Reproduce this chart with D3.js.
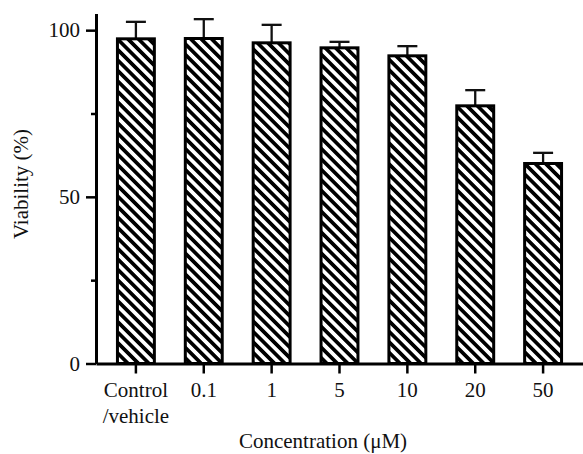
<!DOCTYPE html>
<html><head><meta charset="utf-8">
<script src="https://cdn.jsdelivr.net/npm/d3@7"></script>
<style>
body{margin:0;background:#fff}
svg{display:block}
text{font-family:"Liberation Serif","Times New Roman",serif;fill:#111}
</style>
</head><body>
<svg id="chart" width="583" height="454"></svg>
<script>
const categories = ["Control/vehicle", "0.1", "1", "5", "10", "20", "50"];
const viability = [97.4, 97.5, 96.2, 94.7, 92.3, 77.3, 60.0];
const errors = [5.1, 5.8, 5.4, 1.8, 2.9, 4.7, 3.2];
const yTicks = [0, 50, 100];
const yMinorTicks = [25, 75];
const yLabel = "Viability (%)";
const xLabel = "Concentration (\u03bcM)";

const svg = d3.select("#chart");
const fontSize = 21;

const x = d3.scaleBand().domain(categories).range([96, 583]).paddingInner(0.456).paddingOuter(0.316);
const y = d3.scaleLinear().domain([0, 105]).range([363.5, 13.5]);

// hatch pattern
const defs = svg.append("defs");
const pat = defs.append("pattern")
  .attr("id", "hatch").attr("patternUnits", "userSpaceOnUse")
  .attr("width", 7.4).attr("height", 7.4)
  .attr("patternTransform", "rotate(-45)");
pat.append("rect").attr("width", 7.4).attr("height", 7.4).attr("fill", "#fff");
pat.append("line").attr("x1", 3.7).attr("x2", 3.7).attr("y1", 0).attr("y2", 7.4)
  .attr("stroke", "#000").attr("stroke-width", 3.7);

const data = categories.map((c, i) => ({c, v: viability[i], e: errors[i]}));

// error bars (upper)
const eb = svg.append("g").attr("stroke", "#111").attr("stroke-width", 2.3).attr("fill", "none");
data.forEach(d => {
  const cx = x(d.c) + x.bandwidth() / 2;
  eb.append("line").attr("x1", cx).attr("x2", cx).attr("y1", y(d.v)).attr("y2", y(d.v + d.e));
  eb.append("line").attr("x1", cx - 10).attr("x2", cx + 10).attr("y1", y(d.v + d.e)).attr("y2", y(d.v + d.e));
});

// bars
svg.append("g").selectAll("rect").data(data).join("rect")
  .attr("x", d => x(d.c))
  .attr("width", x.bandwidth())
  .attr("y", d => y(d.v))
  .attr("height", d => y(0) - y(d.v))
  .attr("fill", "url(#hatch)")
  .attr("stroke", "#000")
  .attr("stroke-width", 3);

// y axis
const yAxis = svg.append("g").attr("transform", "translate(96,0)")
  .call(d3.axisLeft(y).tickValues(yTicks).tickSize(10).tickSizeOuter(0).tickPadding(6));
const yMinor = svg.append("g").attr("transform", "translate(96,0)")
  .call(d3.axisLeft(y).tickValues(yMinorTicks).tickSize(5).tickSizeOuter(0).tickFormat(""));
yMinor.select(".domain").remove();

// x axis
const xAxis = svg.append("g").attr("transform", "translate(0,363.5)")
  .call(d3.axisBottom(x).tickSize(10).tickSizeOuter(0).tickPadding(9));

[yAxis, yMinor, xAxis].forEach(g => {
  g.select(".domain").attr("stroke", "#000").attr("stroke-width", 3);
  g.selectAll(".tick line").attr("stroke", "#000").attr("stroke-width", 2.5);
  g.selectAll("text").attr("font-size", fontSize).attr("font-family", '"Liberation Serif","Times New Roman",serif').attr("fill", "#111");
});

xAxis.selectAll(".tick text").each(function(d) {
  const t = d3.select(this);
  const parts = d.split("/");
  if (parts.length > 1) {
    t.text(null);
    t.append("tspan").attr("x", 0).text(parts[0]);
    t.append("tspan").attr("x", 0).attr("dy", "1.2em").text("/" + parts[1]);
  }
});

// axis titles
svg.append("text")
  .attr("transform", "translate(28,184) rotate(-90)")
  .attr("text-anchor", "middle")
  .attr("font-size", fontSize)
  .text(yLabel);

svg.append("text")
  .attr("x", 323).attr("y", 448)
  .attr("text-anchor", "middle")
  .attr("font-size", fontSize)
  .text(xLabel);
</script>
</body></html>
